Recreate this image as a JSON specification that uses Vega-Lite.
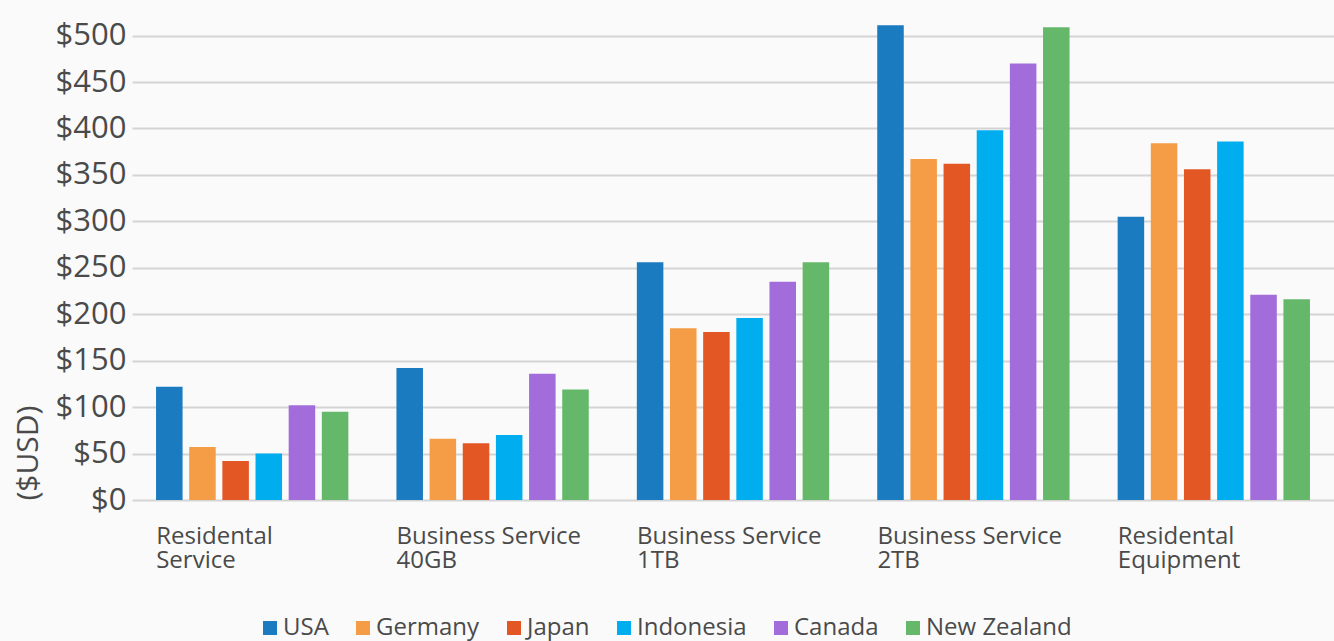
{
  "$schema": "https://vega.github.io/schema/vega-lite/v6.json",
  "width": 1202,
  "height": 483,
  "autosize": {"type": "none"},
  "padding": {"left": 132, "top": 17, "right": 0, "bottom": 141},
  "background": "#fafafa",
  "config": {
    "font": "Open Sans",
    "view": {"stroke": null},
    "axis": {"labelColor": "#4a4a4a", "titleColor": "#4a4a4a", "domain": false, "ticks": false}
  },
  "data": {
    "values": [
      {"cat": "Residental|Service", "country": "USA", "v": 122},
      {"cat": "Residental|Service", "country": "Germany", "v": 57},
      {"cat": "Residental|Service", "country": "Japan", "v": 42},
      {"cat": "Residental|Service", "country": "Indonesia", "v": 50},
      {"cat": "Residental|Service", "country": "Canada", "v": 102},
      {"cat": "Residental|Service", "country": "New Zealand", "v": 95},
      {"cat": "Business Service|40GB", "country": "USA", "v": 142},
      {"cat": "Business Service|40GB", "country": "Germany", "v": 66},
      {"cat": "Business Service|40GB", "country": "Japan", "v": 61},
      {"cat": "Business Service|40GB", "country": "Indonesia", "v": 70},
      {"cat": "Business Service|40GB", "country": "Canada", "v": 136},
      {"cat": "Business Service|40GB", "country": "New Zealand", "v": 119},
      {"cat": "Business Service|1TB", "country": "USA", "v": 256},
      {"cat": "Business Service|1TB", "country": "Germany", "v": 185},
      {"cat": "Business Service|1TB", "country": "Japan", "v": 181},
      {"cat": "Business Service|1TB", "country": "Indonesia", "v": 196},
      {"cat": "Business Service|1TB", "country": "Canada", "v": 235},
      {"cat": "Business Service|1TB", "country": "New Zealand", "v": 256},
      {"cat": "Business Service|2TB", "country": "USA", "v": 511},
      {"cat": "Business Service|2TB", "country": "Germany", "v": 367},
      {"cat": "Business Service|2TB", "country": "Japan", "v": 362},
      {"cat": "Business Service|2TB", "country": "Indonesia", "v": 398},
      {"cat": "Business Service|2TB", "country": "Canada", "v": 470},
      {"cat": "Business Service|2TB", "country": "New Zealand", "v": 509},
      {"cat": "Residental|Equipment", "country": "USA", "v": 305},
      {"cat": "Residental|Equipment", "country": "Germany", "v": 384},
      {"cat": "Residental|Equipment", "country": "Japan", "v": 356},
      {"cat": "Residental|Equipment", "country": "Indonesia", "v": 386},
      {"cat": "Residental|Equipment", "country": "Canada", "v": 221},
      {"cat": "Residental|Equipment", "country": "New Zealand", "v": 216}
    ]
  },
  "mark": {"type": "bar"},
  "encoding": {
    "x": {
      "field": "cat", "type": "nominal", "sort": null,
      "scale": {"paddingInner": 0.2, "paddingOuter": 0.1},
      "axis": {
        "title": null, "labelAngle": 0, "labelAlign": "left", "labelOffset": -96,
        "labelExpr": "split(datum.label, '|')", "labelFontSize": 24, "labelLineHeight": 24,
        "labelPadding": 24, "labelBaseline": "top", "labelLimit": 0, "grid": false
      }
    },
    "xOffset": {
      "field": "country", "type": "nominal", "sort": null,
      "scale": {"paddingInner": 0.2, "paddingOuter": 0}
    },
    "y": {
      "field": "v", "type": "quantitative",
      "scale": {"domain": [0, 520], "nice": false},
      "axis": {
        "values": [0, 50, 100, 150, 200, 250, 300, 350, 400, 450, 500],
        "labelExpr": "'$' + datum.value", "labelFontSize": 31, "labelPadding": 6,
        "gridColor": "#d4d4d4", "gridWidth": 2,
        "title": "($USD)", "titleFontSize": 30, "titleFontWeight": "normal",
        "titleAnchor": "start", "titlePadding": 12
      }
    },
    "color": {
      "field": "country", "type": "nominal", "sort": null,
      "scale": {
        "domain": ["USA", "Germany", "Japan", "Indonesia", "Canada", "New Zealand"],
        "range": ["#1b7bc0", "#f59d46", "#e35724", "#00aeef", "#a36cdb", "#65b869"]
      },
      "legend": {
        "title": null, "orient": "none", "direction": "horizontal",
        "legendX": 126, "legendY": 599,
        "symbolType": "square", "symbolSize": 196, "symbolStrokeWidth": 0,
        "labelFontSize": 24, "labelColor": "#4a4a4a", "labelOffset": 1,
        "columnPadding": 22
      }
    }
  }
}
